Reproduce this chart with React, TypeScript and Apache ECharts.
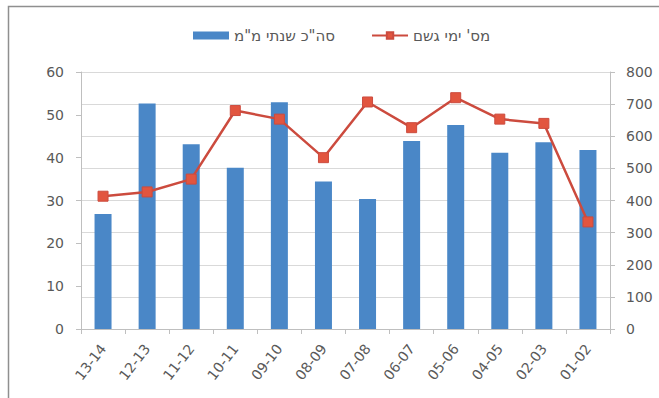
import React, { useEffect, useRef } from "react";
import * as echarts from "echarts";

// Seasons, newest first
const seasons = ["13-14", "12-13", "11-12", "10-11", "09-10", "08-09", "07-08", "06-07", "05-06", "04-05", "02-03", "01-02"];
// Annual rainfall total (mm) — right axis
const annualRainMm = [358, 702, 575, 502, 706, 459, 405, 585, 635, 549, 581, 557];
// Number of rain days — left axis
const rainDays = [31, 32, 35, 51, 49, 40, 53, 47, 54, 49, 48, 25];

const leftTicks = { min: 0, max: 60, interval: 10 };
const rightTicks = { min: 0, max: 800, interval: 100 };

const barName = 'סה"כ שנתי מ"מ';
const lineName = "מס' ימי גשם";

const FONT = "'DejaVu Sans', 'Liberation Sans', sans-serif";
const TEXT = "#595959";
const AXIS = "#bfbfbf";

export default function App() {
  const ref = useRef<HTMLDivElement>(null);

  useEffect(() => {
    document.body.style.margin = "0";
    if (!ref.current) return;
    const chart = echarts.init(ref.current, undefined, { renderer: "svg" });
    chart.setOption({
      animation: false,
      backgroundColor: "#ffffff",
      textStyle: { fontFamily: FONT },
      graphic: [
        {
          type: "polyline",
          shape: { points: [[8.5, 400], [8.5, 6.5], [662, 6.5]] },
          style: { stroke: "#8f8f8f", lineWidth: 1.5, fill: "none" },
          silent: true,
        },
      ],
      legend: {
        left: 188,
        top: 23,
        itemWidth: 36,
        itemHeight: 8,
        itemGap: 36,
        textStyle: { color: TEXT, fontSize: 15, fontFamily: FONT },
        data: [
          { name: barName, icon: "rect" },
          { name: lineName },
        ],
      },
      grid: { left: 81, right: 49, top: 72, bottom: 69 },
      xAxis: {
        type: "category",
        data: seasons,
        boundaryGap: true,
        axisLine: { lineStyle: { color: AXIS } },
        axisTick: { show: true, length: 5, lineStyle: { color: AXIS } },
        axisLabel: { rotate: 52, color: TEXT, fontSize: 14, margin: 17, interval: 0 },
      },
      yAxis: [
        {
          type: "value",
          position: "left",
          ...leftTicks,
          axisLine: { show: true, lineStyle: { color: AXIS } },
          axisTick: { show: true, length: 5, lineStyle: { color: AXIS } },
          splitLine: { show: false },
          axisLabel: { color: TEXT, fontSize: 14, margin: 17 },
        },
        {
          type: "value",
          position: "right",
          ...rightTicks,
          axisLine: { show: true, lineStyle: { color: AXIS } },
          axisTick: { show: true, length: 5, lineStyle: { color: AXIS } },
          splitLine: { show: true, lineStyle: { color: "#d9d9d9" } },
          axisLabel: { color: TEXT, fontSize: 14, margin: 16 },
        },
      ],
      series: [
        {
          name: barName,
          type: "bar",
          yAxisIndex: 1,
          data: annualRainMm,
          barWidth: 17,
          itemStyle: { color: "#4a87c7" },
        },
        {
          name: lineName,
          type: "line",
          yAxisIndex: 0,
          data: rainDays,
          symbol: "rect",
          symbolSize: 10,
          lineStyle: { color: "#cc4b3e", width: 2.5 },
          itemStyle: { color: "#e2553f", borderColor: "#cc4b3e", borderWidth: 1 },
        },
      ],
    });
    return () => chart.dispose();
  }, []);

  return <div ref={ref} style={{ width: 659, height: 398 }} />;
}
